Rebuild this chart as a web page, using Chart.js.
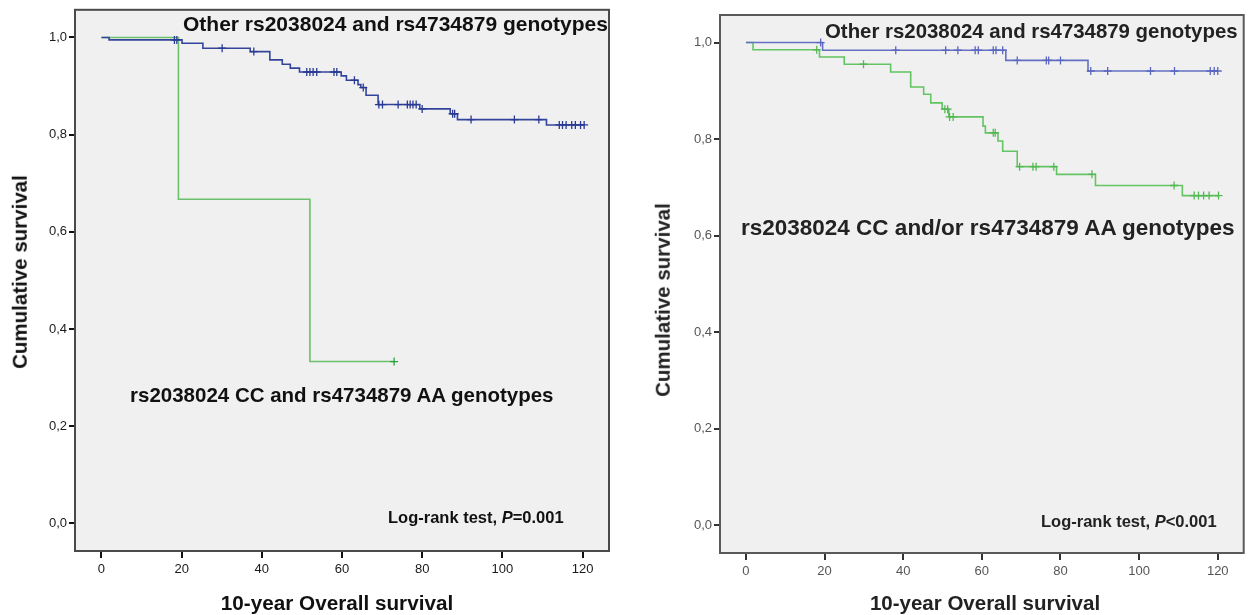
<!DOCTYPE html>
<html><head><meta charset="utf-8">
<script src="https://cdn.jsdelivr.net/npm/chart.js@4.4.1/dist/chart.umd.min.js"></script>
<style>
html,body{margin:0;padding:0;background:#fff}
body{width:1249px;height:615px;position:relative;overflow:hidden;font-family:'Liberation Sans',Arial,sans-serif}
canvas{position:absolute;top:0}
.lbl{position:absolute;font-weight:bold;white-space:nowrap;color:#111;line-height:1}
.rot{position:absolute;font-weight:bold;white-space:nowrap;color:#111;line-height:1;transform:translate(-50%,-50%) rotate(-90deg)}
.xt{position:absolute;font-weight:bold;white-space:nowrap;color:#111;line-height:1;transform:translate(-50%,-50%)}
</style></head><body>
<canvas id="c1" width="640" height="615" style="left:0"></canvas>
<canvas id="c2" width="609" height="615" style="left:640px"></canvas>
<script>
// ---------- data ----------
const xTickValues = [0, 20, 40, 60, 80, 100, 120];
const xTickLabels = ["0", "20", "40", "60", "80", "100", "120"];
const yTickValues = [0, 0.2, 0.4, 0.6, 0.8, 1.0];
const yTickLabels = ["0,0", "0,2", "0,4", "0,6", "0,8", "1,0"];

// Left panel: Other genotypes
const leftOtherEventTimes = [1.9, 20.1, 25.3, 37.1, 42, 45.1, 47.1, 49.4, 59.8, 61.1, 64, 64.7, 66, 69, 79.4, 87, 88.8, 111];
const leftOtherSurvival   = [0.995, 0.988, 0.978, 0.971, 0.954, 0.945, 0.937, 0.929, 0.921, 0.912, 0.903, 0.897, 0.881, 0.862, 0.853, 0.843, 0.831, 0.820];
const leftOtherCensored   = [18.2, 18.8, 30.1, 38, 51.2, 52, 52.8, 53.7, 58, 58.7, 63.1, 65.3, 69.2, 70.1, 74, 76.3, 77, 77.7, 78.5, 80, 87.6, 88.1, 92.2, 103, 109.1, 114.2, 115, 115.9, 117.3, 118.2, 119.5, 120.4];
// Left panel: rs2038024 CC and rs4734879 AA
const leftRiskEventTimes = [19.2, 52];
const leftRiskSurvival   = [0.667, 0.333];
const leftRiskCensored   = [73];

// Right panel: Other genotypes
const rightOtherEventTimes = [19.5, 66.1, 87];
const rightOtherSurvival   = [0.984, 0.963, 0.941];
const rightOtherCensored   = [19, 38.1, 50.8, 53.9, 58.3, 59.1, 62.9, 63.6, 65.3, 69, 76.4, 77, 80, 87.7, 92, 102.9, 109, 118.1, 119.1, 120];
// Right panel: rs2038024 CC and/or rs4734879 AA
const rightRiskEventTimes = [1.8, 18.7, 25, 36.8, 41.9, 45.2, 47, 49.9, 51.6, 60.3, 60.9, 64.1, 65.3, 69, 79, 88.9, 111];
const rightRiskSurvival   = [0.985, 0.970, 0.955, 0.939, 0.908, 0.893, 0.875, 0.862, 0.846, 0.827, 0.813, 0.796, 0.775, 0.743, 0.727, 0.704, 0.683];
const rightRiskCensored   = [18, 29.9, 50.6, 51.3, 51.8, 52.7, 62.9, 63.4, 69.6, 73, 73.8, 78.3, 88, 108.9, 114, 115.1, 116.4, 117.8, 120.2];

// ---------- helpers ----------
function survAt(times, surv, t) {
  let s = 1;
  for (let i = 0; i < times.length; i++) { if (times[i] <= t) s = surv[i]; }
  return s;
}
function curvePoints(times, surv, censored) {
  const pts = [{x: 0, y: 1}];
  times.forEach((t, i) => pts.push({x: t, y: surv[i]}));
  const last = Math.max(times[times.length - 1], censored.length ? censored[censored.length - 1] : 0);
  pts.push({x: last, y: survAt(times, surv, last)});
  return pts;
}
function censorPoints(times, surv, censored) {
  return censored.map(t => ({x: t, y: survAt(times, surv, t)}));
}

const boxPlugin = {
  id: 'box',
  beforeDatasetsDraw(chart) {
    const {ctx, chartArea: a} = chart;
    ctx.save(); ctx.fillStyle = '#f0f0f0';
    ctx.fillRect(a.left, a.top, a.right - a.left, a.bottom - a.top);
    ctx.restore();
  },
  afterDraw(chart, args, opts) {
    const {ctx, chartArea: a} = chart;
    ctx.save(); ctx.strokeStyle = opts.color || '#4a4a4a'; ctx.lineWidth = 2;
    ctx.strokeRect(a.left, a.top, a.right - a.left, a.bottom - a.top);
    ctx.restore();
  }
};

function makeChart(id, cfg) {
  const font = {family: "'Liberation Sans', Arial, sans-serif", size: 13};
  return new Chart(document.getElementById(id), {
    data: {
      datasets: [
        {type: 'line', data: curvePoints(cfg.oT, cfg.oS, cfg.oC), stepped: true, borderColor: cfg.blue, borderWidth: 1.6, pointRadius: 0, fill: false, order: 2},
        {type: 'scatter', data: censorPoints(cfg.oT, cfg.oS, cfg.oC), pointStyle: 'cross', pointRadius: 4, borderColor: cfg.blueC, borderWidth: 1.3, order: 1},
        {type: 'line', data: curvePoints(cfg.rT, cfg.rS, cfg.rC), stepped: true, borderColor: cfg.green, borderWidth: 1.6, pointRadius: 0, fill: false, order: 4},
        {type: 'scatter', data: censorPoints(cfg.rT, cfg.rS, cfg.rC), pointStyle: 'cross', pointRadius: 4, borderColor: cfg.greenC, borderWidth: 1.3, order: 3}
      ]
    },
    options: {
      responsive: false, animation: false, events: [],
      layout: {padding: cfg.padding},
      plugins: {legend: {display: false}, tooltip: {enabled: false}, box: {color: cfg.boxColor}},
      scales: {
        x: {
          type: 'linear', min: -6.6, max: 126.6,
          afterBuildTicks: s => { s.ticks = xTickValues.map(v => ({value: v})); },
          afterFit: s => { s.height = cfg.xAxisH; },
          ticks: {callback: (v) => xTickLabels[xTickValues.indexOf(v)], color: cfg.tickColor, font, padding: 4, maxRotation: 0, autoSkip: false},
          grid: {display: true, drawOnChartArea: false, drawTicks: true, tickLength: 7, color: cfg.tickMark, lineWidth: 2},
          border: {display: false}
        },
        y: {
          type: 'linear', min: -0.057, max: 1.057,
          afterBuildTicks: s => { s.ticks = yTickValues.map(v => ({value: v})); },
          afterFit: s => { s.width = cfg.yAxisW; },
          ticks: {callback: (v) => yTickLabels[yTickValues.indexOf(v)], color: cfg.tickColor, font, padding: 2, autoSkip: false},
          grid: {display: true, drawOnChartArea: false, drawTicks: true, tickLength: 6, color: cfg.tickMark, lineWidth: 2},
          border: {display: false}
        }
      }
    },
    plugins: [boxPlugin]
  });
}

makeChart('c1', {
  oT: leftOtherEventTimes, oS: leftOtherSurvival, oC: leftOtherCensored,
  rT: leftRiskEventTimes, rS: leftRiskSurvival, rC: leftRiskCensored,
  blue: '#34449c', blueC: '#2a3a94', green: '#6cc06c', greenC: '#2f9f3a',
  padding: {left: 0, right: 31, top: 9, bottom: 0}, yAxisW: 75, xAxisH: 64,
  tickColor: '#1a1a1a', tickMark: '#111', boxColor: '#4a4a4a'
});
makeChart('c2', {
  oT: rightOtherEventTimes, oS: rightOtherSurvival, oC: rightOtherCensored,
  rT: rightRiskEventTimes, rS: rightRiskSurvival, rC: rightRiskCensored,
  blue: '#6470c4', blueC: '#5a66bf', green: '#62c462', greenC: '#55b855',
  padding: {left: 0, right: 2, top: 15, bottom: 0}, yAxisW: 80, xAxisH: 62,
  tickColor: '#555', tickMark: '#333', boxColor: '#5a5a5a'
});

// ---------- texts ----------
function addText(cls, html, left, top, size, extra) {
  const d = document.createElement('div');
  d.className = cls; d.innerHTML = html;
  d.style.left = left + 'px'; d.style.top = top + 'px'; d.style.fontSize = size + 'px';
  if (extra) Object.assign(d.style, extra);
  document.body.appendChild(d);
}
addText('lbl', 'Other rs2038024 and rs4734879 genotypes', 183, 23 - 0.49 * 21, 21);
addText('lbl', 'rs2038024 CC and rs4734879 AA genotypes', 130, 395 - 0.49 * 20.5, 20.5);
addText('lbl', 'Log-rank test, <i>P</i>=0.001', 388, 517 - 0.49 * 16.5, 16.5);
addText('lbl', 'Other rs2038024 and rs4734879 genotypes', 825, 31 - 0.49 * 20.4, 20.4, {color: '#222'});
addText('lbl', 'rs2038024 CC and/or rs4734879 AA genotypes', 741, 228 - 0.49 * 22.5, 22.5, {color: '#222'});
addText('lbl', 'Log-rank test, <i>P</i>&lt;0.001', 1041, 521 - 0.49 * 16.5, 16.5, {color: '#222'});
addText('rot', 'Cumulative survival', 20, 272, 20.5);
addText('rot', 'Cumulative survival', 663, 300, 20.5, {color: '#222'});
addText('xt', '10-year Overall survival', 337, 603, 20.7);
addText('xt', '10-year Overall survival', 985, 603, 20.5, {color: '#222'});
</script>
</body></html>
